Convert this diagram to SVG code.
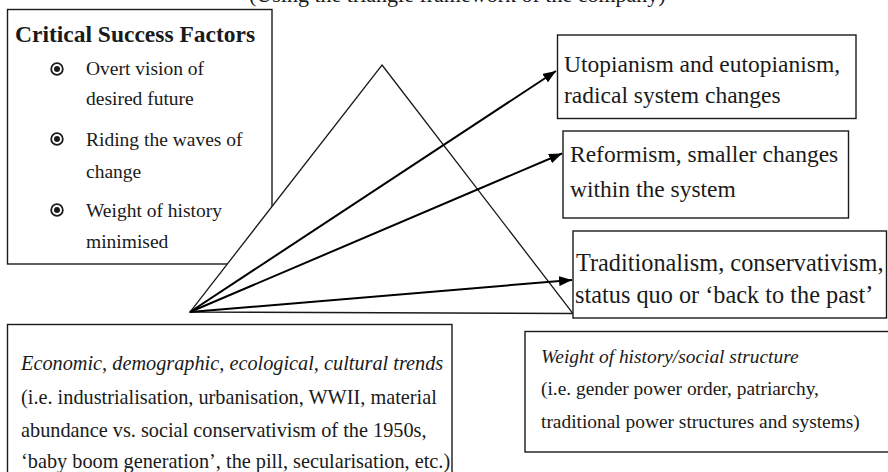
<svg xmlns="http://www.w3.org/2000/svg" width="888" height="472" viewBox="0 0 888 472">
<style>
  text { font-family: "Liberation Serif", "Times New Roman", serif; fill: #1a1a1a; }
  .box { fill: #ffffff; stroke: #1a1a1a; stroke-width: 1.4; }
  .tri { fill: #ffffff; stroke: #1a1a1a; stroke-width: 1.3; }
  .arr { stroke: #000000; stroke-width: 2; fill: none; }
  .big { font-size: 23.5px; }
  .csf { font-size: 19.5px; }
  .bl { font-size: 20.3px; }
  .br { font-size: 19.4px; }
  .it { font-style: italic; }
  .bul-o { fill: none; stroke: #1a1a1a; stroke-width: 1.8; }
  .bul-i { fill: #1a1a1a; }
</style>
<defs>
  <marker id="ah" markerUnits="userSpaceOnUse" markerWidth="14" markerHeight="10" refX="13" refY="5" orient="auto">
    <path d="M0,0 L13,5 L0,10 Z" fill="#000000"/>
  </marker>
</defs>
<rect width="888" height="472" fill="#ffffff"/>

<text x="249" y="1.5" font-size="22">(Using the triangle framework of the company)</text>

<g id="csf">
  <rect class="box" x="7.5" y="9.5" width="264.5" height="254.5"/>
  <text x="15" y="42" font-size="23.5" font-weight="bold">Critical Success Factors</text>
  <circle class="bul-o" cx="57" cy="69" r="5.8"/><circle class="bul-i" cx="57" cy="69" r="3"/>
  <text class="csf" x="86" y="75">Overt vision of</text>
  <text class="csf" x="86" y="105">desired future</text>
  <circle class="bul-o" cx="57" cy="139" r="5.8"/><circle class="bul-i" cx="57" cy="139" r="3"/>
  <text class="csf" x="86" y="146">Riding the waves of</text>
  <text class="csf" x="86" y="178">change</text>
  <circle class="bul-o" cx="57" cy="210" r="5.8"/><circle class="bul-i" cx="57" cy="210" r="3"/>
  <text class="csf" x="86" y="217">Weight of history</text>
  <text class="csf" x="86" y="248">minimised</text>
</g>

<g id="triangle">
  <polygon class="tri" points="382,65 573,313.5 190,312"/>
</g>

<g id="utopianism">
  <rect class="box" x="557.5" y="35" width="298.5" height="83.5"/>
  <text class="big" x="564" y="71.5">Utopianism and eutopianism,</text>
  <text class="big" x="564" y="102.5">radical system changes</text>
</g>

<g id="reformism">
  <rect class="box" x="563" y="131" width="285.5" height="87"/>
  <text class="big" x="570" y="161.5">Reformism, smaller changes</text>
  <text class="big" x="570" y="197">within the system</text>
</g>

<g id="traditionalism">
  <rect class="box" x="573" y="231" width="313.5" height="87"/>
  <text x="576" y="271" font-size="24.3">Traditionalism, conservativism,</text>
  <text x="575" y="303" font-size="24.3">status quo or ‘back to the past’</text>
</g>

<g id="connectors">
  <line class="arr" x1="190" y1="312" x2="556" y2="71" marker-end="url(#ah)"/>
  <line class="arr" x1="190" y1="312" x2="562" y2="153.5" marker-end="url(#ah)"/>
  <line class="arr" x1="190" y1="312" x2="572" y2="280" marker-end="url(#ah)"/>
</g>

<g id="trends">
  <rect class="box" x="7.5" y="324.5" width="444.5" height="170"/>
  <text class="bl it" x="21" y="370">Economic, demographic, ecological, cultural trends</text>
  <text class="bl" x="21" y="404">(i.e. industrialisation, urbanisation, WWII, material</text>
  <text class="bl" x="21" y="437">abundance vs. social conservativism of the 1950s,</text>
  <text class="bl" x="21" y="468">‘baby boom generation’, the pill, secularisation, etc.)</text>
</g>

<g id="weight">
  <rect class="box" x="525" y="331.5" width="380" height="120.5"/>
  <text class="br it" x="541" y="363">Weight of history/social structure</text>
  <text class="br" x="541" y="395">(i.e. gender power order, patriarchy,</text>
  <text class="br" x="541" y="428">traditional power structures and systems)</text>
</g>
</svg>
